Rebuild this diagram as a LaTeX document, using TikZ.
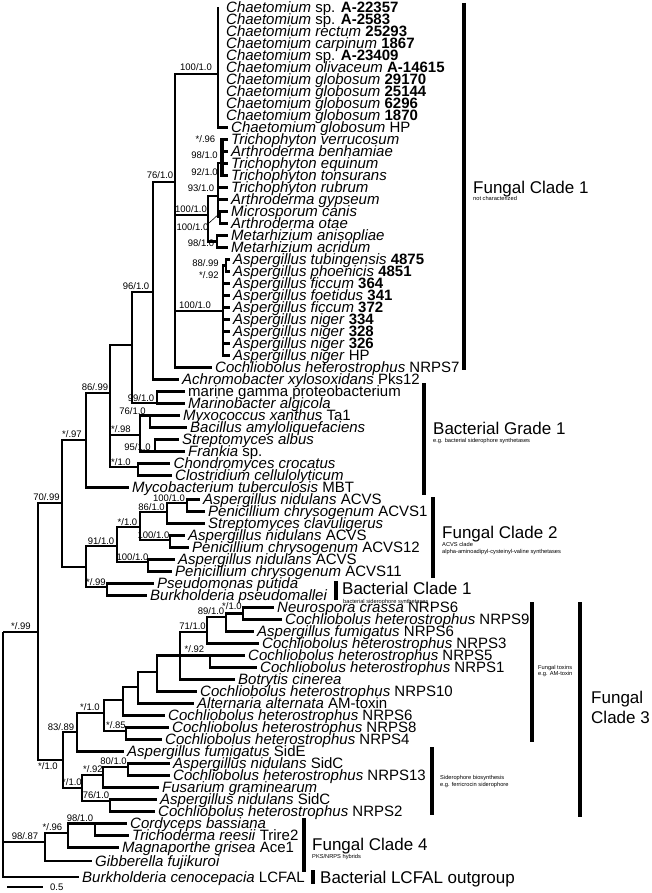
\documentclass[tikz,border=0pt]{standalone}
\usepackage{fontspec}
\setmainfont{Liberation Sans}
\begin{document}
\begin{tikzpicture}[x=1pt,y=-1pt,
  br/.style={line width=2.5pt},
  brthick/.style={line width=3.4pt},
  lf/.style={anchor=west,inner xsep=3.5pt,inner ysep=0pt,text height=10pt,text depth=0pt,font=\fontsize{15}{15}\selectfont},
  lfz/.style={lf,inner xsep=8pt},
  sp/.style={inner sep=0pt,text height=6.8pt,text depth=0pt,font=\fontsize{9.5}{9.5}\selectfont},
  cl/.style={anchor=west,inner sep=0pt,text height=12.2pt,text depth=0pt,font=\fontsize{17}{17}\selectfont},
  sm/.style={anchor=west,inner sep=0pt,text height=4pt,text depth=0pt,font=\fontsize{5.7}{5.7}\selectfont},
  bar/.style={line width=3.5pt}]
\useasboundingbox (0,0) rectangle (652,893);
% ---------- internal nodes ----------
\coordinate (R) at (3,632);
\coordinate (S99) at (38,632);
\coordinate (S7099) at (62,503);
\coordinate (S97) at (86,440);
\coordinate (S8699) at (110,393);
\coordinate (N132) at (132,345);
\coordinate (S96) at (153,292);
\coordinate (S76) at (175,182);
\coordinate (C) at (218,74);
\coordinate (T) at (208,215);
\coordinate (D) at (218,196);
\coordinate (E) at (222,163);
\coordinate (Dc) at (220,217);
\coordinate (M) at (217,241.5);
\coordinate (A) at (223,311);
\coordinate (A88) at (226,265.5);
\coordinate (S991) at (157,403);
\coordinate (S98) at (140,435);
\coordinate (S761) at (150,415.5);
\coordinate (S951) at (155,451.5);
\coordinate (S10c) at (138,467);
\coordinate (Nx) at (86,567);
\coordinate (S911) at (117,546);
\coordinate (S10d) at (140,527);
\coordinate (S861) at (167,512);
\coordinate (S100a) at (187,503);
\coordinate (S100b) at (170,540);
\coordinate (S100c) at (148,562);
\coordinate (S99b) at (107,587);
\coordinate (C3) at (63,760);
\coordinate (S8389) at (77,732);
\coordinate (S10e) at (104,713);
\coordinate (N123) at (123,700);
\coordinate (N138) at (138,687);
\coordinate (N157) at (157,672);
\coordinate (N180) at (180,655.5);
\coordinate (S71) at (207,632);
\coordinate (S891) at (226,617);
\coordinate (S10g) at (243,613.5);
\coordinate (S92) at (210,655.5);
\coordinate (S85) at (126,731);
\coordinate (S10f) at (82,788);
\coordinate (S92b) at (103,775);
\coordinate (S801) at (128,767);
\coordinate (S762) at (110,801);
\coordinate (N9887) at (45,842);
\coordinate (S96b) at (68,833);
\coordinate (S981) at (95,823.5);
% ---------- leaves ----------
\node[lfz] (L1) at (218,7.5) {\textit{Chaetomium} sp. \textbf{A-22357}};
\node[lfz] (L2) at (218,19.5) {\textit{Chaetomium} sp. \textbf{A-2583}};
\node[lfz] (L3) at (218,31.5) {\textit{Chaetomium rectum} \textbf{25293}};
\node[lfz] (L4) at (218,43.5) {\textit{Chaetomium carpinum} \textbf{1867}};
\node[lfz] (L5) at (218,55.5) {\textit{Chaetomium} sp. \textbf{A-23409}};
\node[lfz] (L6) at (218,67.5) {\textit{Chaetomium olivaceum} \textbf{A-14615}};
\node[lfz] (L7) at (218,79.5) {\textit{Chaetomium globosum} \textbf{29170}};
\node[lfz] (L8) at (218,91.5) {\textit{Chaetomium globosum} \textbf{25144}};
\node[lfz] (L9) at (218,103.5) {\textit{Chaetomium globosum} \textbf{6296}};
\node[lfz] (L10) at (218,115.5) {\textit{Chaetomium globosum} \textbf{1870}};
\node[lf] (L11) at (227.5,127.5) {\textit{Chaetomium globosum} HP};
\node[lf] (L12) at (227.5,139.5) {\textit{Trichophyton verrucosum}};
\node[lf] (L13) at (227.5,151.5) {\textit{Arthroderma benhamiae}};
\node[lf] (L14) at (227.5,163.5) {\textit{Trichophyton equinum}};
\node[lf] (L15) at (227.5,175.5) {\textit{Trichophyton tonsurans}};
\node[lf] (L16) at (227.5,187.5) {\textit{Trichophyton rubrum}};
\node[lf] (L17) at (227.5,199.5) {\textit{Arthroderma gypseum}};
\node[lf] (L18) at (227.5,211.5) {\textit{Microsporum canis}};
\node[lf] (L19) at (227.5,223.5) {\textit{Arthroderma otae}};
\node[lf] (L20) at (227.5,235.5) {\textit{Metarhizium anisopliae}};
\node[lf] (L21) at (227.5,247.5) {\textit{Metarhizium acridum}};
\node[lf] (L22) at (229.5,259.5) {\textit{Aspergillus tubingensis} \textbf{4875}};
\node[lf] (L23) at (229.5,271.5) {\textit{Aspergillus phoenicis} \textbf{4851}};
\node[lf] (L24) at (229.5,283.5) {\textit{Aspergillus ficcum} \textbf{364}};
\node[lf] (L25) at (229.5,295.5) {\textit{Aspergillus foetidus} \textbf{341}};
\node[lf] (L26) at (229.5,307.5) {\textit{Aspergillus ficcum} \textbf{372}};
\node[lf] (L27) at (229.5,319.5) {\textit{Aspergillus niger} \textbf{334}};
\node[lf] (L28) at (229.5,331.5) {\textit{Aspergillus niger} \textbf{328}};
\node[lf] (L29) at (229.5,343.5) {\textit{Aspergillus niger} \textbf{326}};
\node[lf] (L30) at (229.5,355.5) {\textit{Aspergillus niger} HP};
\node[lf] (L31) at (211.5,367.5) {\textit{Cochliobolus heterostrophus} NRPS7};
\node[lf] (L32) at (178.5,379.5) {\textit{Achromobacter xylosoxidans} Pks12};
\node[lf] (L33) at (184.5,391.5) {marine gamma proteobacterium};
\node[lf] (L34) at (184.5,403.5) {\textit{Marinobacter algicola}};
\node[lf] (L35) at (179.5,415.5) {\textit{Myxococcus xanthus} Ta1};
\node[lf] (L36) at (186.5,427.5) {\textit{Bacillus amyloliquefaciens}};
\node[lf] (L37) at (178.5,439.5) {\textit{Streptomyces albus}};
\node[lf] (L38) at (184.5,451.5) {\textit{Frankia} sp.};
\node[lf] (L39) at (170,463.5) {\textit{Chondromyces crocatus}};
\node[lf] (L40) at (171.5,475.5) {\textit{Clostridium cellulolyticum}};
\node[lf] (L41) at (128.5,487.5) {\textit{Mycobacterium tuberculosis} MBT};
\node[lf] (L42) at (199.5,499.5) {\textit{Aspergillus nidulans} ACVS};
\node[lf] (L43) at (204.5,511.5) {\textit{Penicillium chrysogenum} ACVS1};
\node[lf] (L44) at (204.5,523.5) {\textit{Streptomyces clavuligerus}};
\node[lf] (L45) at (184.5,535.5) {\textit{Aspergillus nidulans} ACVS};
\node[lf] (L46) at (188.5,547.5) {\textit{Penicillium chrysogenum} ACVS12};
\node[lf] (L47) at (174.5,559.5) {\textit{Aspergillus nidulans} ACVS};
\node[lf] (L48) at (171.5,571.5) {\textit{Penicillium chrysogenum} ACVS11};
\node[lf] (L49) at (153.5,583.5) {\textit{Pseudomonas putida}};
\node[lf] (L50) at (146.5,595.5) {\textit{Burkholderia pseudomallei}};
\node[lf] (L51) at (273.5,607.5) {\textit{Neurospora crassa} NRPS6};
\node[lf] (L52) at (281.5,619.5) {\textit{Cochliobolus heterostrophus} NRPS9};
\node[lf] (L53) at (253.5,631.5) {\textit{Aspergillus fumigatus} NRPS6};
\node[lf] (L54) at (258.5,643.5) {\textit{Cochliobolus heterostrophus} NRPS3};
\node[lf] (L55) at (244.5,655.5) {\textit{Cochliobolus heterostrophus} NRPS5};
\node[lf] (L56) at (256.5,667.5) {\textit{Cochliobolus heterostrophus} NRPS1};
\node[lf] (L57) at (234.5,679.5) {\textit{Botrytis cinerea}};
\node[lf] (L58) at (196.5,691.5) {\textit{Cochliobolus heterostrophus} NRPS10};
\node[lf] (L59) at (193.5,703.5) {\textit{Alternaria alternata} AM-toxin};
\node[lf] (L60) at (164.5,715.5) {\textit{Cochliobolus heterostrophus} NRPS6};
\node[lf] (L61) at (168.5,727.5) {\textit{Cochliobolus heterostrophus} NRPS8};
\node[lf] (L62) at (161.5,739.5) {\textit{Cochliobolus heterostrophus} NRPS4};
\node[lf] (L63) at (123.5,751.5) {\textit{Aspergillus fumigatus} SidE};
\node[lf] (L64) at (169.5,763.5) {\textit{Aspergillus nidulans} SidC};
\node[lf] (L65) at (169.5,775.5) {\textit{Cochliobolus heterostrophus} NRPS13};
\node[lf] (L66) at (158.5,787.5) {\textit{Fusarium graminearum}};
\node[lf] (L67) at (156.5,799.5) {\textit{Aspergillus nidulans} SidC};
\node[lf] (L68) at (154.5,811.5) {\textit{Cochliobolus heterostrophus} NRPS2};
\node[lf] (L69) at (126.5,823.5) {\textit{Cordyceps bassiana}};
\node[lf] (L70) at (128.5,835.5) {\textit{Trichoderma reesii} Trire2};
\node[lf] (L71) at (118.5,847.5) {\textit{Magnaporthe grisea} Ace1};
\node[lf] (L72) at (91.5,861) {\textit{Gibberella fujikuroi}};
\node[lf] (L73) at (78.5,877) {\textit{Burkholderia cenocepacia} LCFAL};
% ---------- branches ----------
\foreach \p/\c in {R/S99,R/N9887,R/L73,
  S99/S7099,S99/C3,S7099/S97,S7099/Nx,S97/S8699,S97/L41,
  S8699/N132,S8699/S98,S8699/S10c,N132/S96,N132/S991,
  S96/S76,S96/L32,S76/C,S76/T,S76/A,S76/L31,
  C/L1,C/L2,C/L3,C/L4,C/L5,C/L6,C/L7,C/L8,C/L9,C/L10,C/L11,
  T/D,T/M,D/E,D/L16,D/L17,D/Dc,Dc/L18,Dc/L19,M/L20,M/L21,
  A/A88,A/L24,A/L25,A/L26,A/L27,A/L28,A/L29,A/L30,A88/L22,A88/L23,
  S991/L33,S991/L34,S98/S761,S98/S951,S761/L35,S761/L36,S951/L37,S951/L38,
  S10c/L39,S10c/L40,
  Nx/S911,Nx/S99b,S911/S10d,S911/S100c,S10d/S861,S10d/S100b,S861/S100a,S861/L44,
  S100a/L42,S100a/L43,S100b/L45,S100b/L46,S100c/L47,S100c/L48,S99b/L49,S99b/L50,
  C3/S8389,C3/S10f,S8389/S10e,S8389/L63,S10e/N123,S10e/S85,N123/N138,N123/L60,
  N138/N157,N138/L59,N157/N180,N157/L58,N180/S71,N180/S92,N180/L57,
  S71/S891,S71/L54,S891/S10g,S891/L53,S10g/L51,S10g/L52,S92/L55,S92/L56,
  S85/L61,S85/L62,S10f/S92b,S10f/S762,S92b/S801,S92b/L66,S801/L64,S801/L65,
  S762/L67,S762/L68,N9887/S96b,N9887/L72,S96b/S981,S96b/L71,S981/L69,S981/L70}
  {\draw[br] (\p) |- (\c);}
\foreach \c in {L12,L13,L14,L15} {\draw[brthick] (E) |- (\c);}
% ---------- support values ----------
\node[sp] (sC) at (196,67) {100/1.0};
\node[sp] (s76) at (160,175) {76/1.0};
\node[sp] (s96) at (136,286) {96/1.0};
\node[sp] (sE1) at (205.5,139) {*/.96};
\node[sp] (sE2) at (204.5,155) {98/1.0};
\node[sp] (sE3) at (204.5,172) {92/1.0};
\node[sp] (sD) at (201,188) {93/1.0};
\node[sp] (sT) at (191,209) {100/1.0};
\node[sp] (sDc) at (192.5,227) {100/1.0};
\node[sp] (sM) at (201,243) {98/1.0};
\node[sp] (sA88) at (205.5,263) {88/.99};
\node[sp] (sA92) at (209,275) {*/.92};
\node[sp] (sA) at (195,305) {100/1.0};
\node[sp] (s8699) at (95,387) {86/.99};
\node[sp] (s991) at (141,398) {99/1.0};
\node[sp] (s761) at (132.5,411) {76/1.0};
\node[sp] (s98) at (121,429) {*/.98};
\node[sp] (s951) at (137.5,447) {95/1.0};
\node[sp] (s10c) at (121,462) {*/1.0};
\node[sp] (s97) at (72,434) {*/.97};
\node[sp] (s7099) at (46.5,497) {70/.99};
\node[sp] (s99) at (21,626) {*/.99};
\node[sp] (s100a) at (169,498) {100/1.0};
\node[sp] (s861) at (151.5,507) {86/1.0};
\node[sp] (s10d) at (127.5,522) {*/1.0};
\node[sp] (s100b) at (153.5,535) {100/1.0};
\node[sp] (s911) at (101,541) {91/1.0};
\node[sp] (s100c) at (132.5,557) {100/1.0};
\node[sp] (s99b) at (96,582) {*/.99};
\node[sp] (s10g) at (232,606) {*/1.0};
\node[sp] (s891) at (211,611.5) {89/1.0};
\node[sp] (s71) at (192.5,626) {71/1.0};
\node[sp] (s92) at (194.5,649) {*/.92};
\node[sp] (s10e) at (90,707) {*/1.0};
\node[sp] (s8389) at (61,727) {83/.89};
\node[sp] (s85) at (116,725) {*/.85};
\node[sp] (sC3) at (48,766) {*/1.0};
\node[sp] (s801) at (113.5,761) {80/1.0};
\node[sp] (s92b) at (93,769) {*/.92};
\node[sp] (s10f) at (72,782) {*/1.0};
\node[sp] (s762) at (96,795) {76/1.0};
\node[sp] (s981) at (80,818) {98/1.0};
\node[sp] (s96b) at (52.5,827) {*/.96};
\node[sp] (s9887) at (25,836) {98/.87};
\coordinate (Dcpt) at (220,213);
\draw[line width=0.6pt] (sDc.north east) -- (Dcpt);
% ---------- clade bars and labels ----------
\coordinate (b1a) at (464,3); \coordinate (b1b) at (464,370);
\draw[bar] (b1a) -- (b1b);
\node[cl] (t1) at (473,187) {Fungal Clade 1};
\node[sm] (t1s) at (473,199) {not characterized};
\coordinate (b2a) at (424,383); \coordinate (b2b) at (424,495);
\draw[bar] (b2a) -- (b2b);
\node[cl] (t2) at (433,428) {Bacterial Grade 1};
\node[sm] (t2s) at (433,440.5) {e.g. bacterial siderophore synthetases};
\coordinate (b3a) at (433,497); \coordinate (b3b) at (433,578);
\draw[bar] (b3a) -- (b3b);
\node[cl] (t3) at (442,532) {Fungal Clade 2};
\node[sm] (t3s) at (442,544) {ACVS clade};
\node[sm] (t3t) at (442,551) {alpha-aminoadipyl-cysteinyl-valine synthetases};
\coordinate (b4a) at (336,581); \coordinate (b4b) at (336,600);
\draw[bar] (b4a) -- (b4b);
\node[cl] (t4) at (342,588) {Bacterial Clade 1};
\node[sm] (t4s) at (343,601.5) {bacterial siderophore synthetases};
\coordinate (b5a) at (532,602); \coordinate (b5b) at (532,742);
\draw[bar] (b5a) -- (b5b);
\node[sm] (t5) at (538,667) {Fungal toxins};
\node[sm] (t5s) at (538,673.5) {e.g. AM-toxin};
\coordinate (b6a) at (580,602); \coordinate (b6b) at (580,817);
\draw[bar] (b6a) -- (b6b);
\node[cl] (t6) at (591,697) {Fungal};
\node[cl] (t6b) at (591,717) {Clade 3};
\coordinate (b7a) at (432,747); \coordinate (b7b) at (432,815);
\draw[bar] (b7a) -- (b7b);
\node[sm] (t7) at (440,777) {Siderophore biosynthesis};
\node[sm] (t7s) at (440,784) {e.g. ferricrocin siderophore};
\coordinate (b8a) at (304,818); \coordinate (b8b) at (304,872);
\draw[bar] (b8a) -- (b8b);
\node[cl] (t8) at (312,844) {Fungal Clade 4};
\node[sm] (t8s) at (312,856.5) {PKS/NRPS hybrids};
\coordinate (b9a) at (313,870); \coordinate (b9b) at (313,884);
\draw[bar] (b9a) -- (b9b);
\node[cl] (t9) at (320,877) {Bacterial LCFAL outgroup};
% ---------- scale bar ----------
\coordinate (sb1) at (7,887); \coordinate (sb2) at (43,887);
\draw[line width=1.3pt] (sb1) -- (sb2);
\node[sp,anchor=west] (sbl) at (50,887) {0.5};
\end{tikzpicture}
\end{document}
